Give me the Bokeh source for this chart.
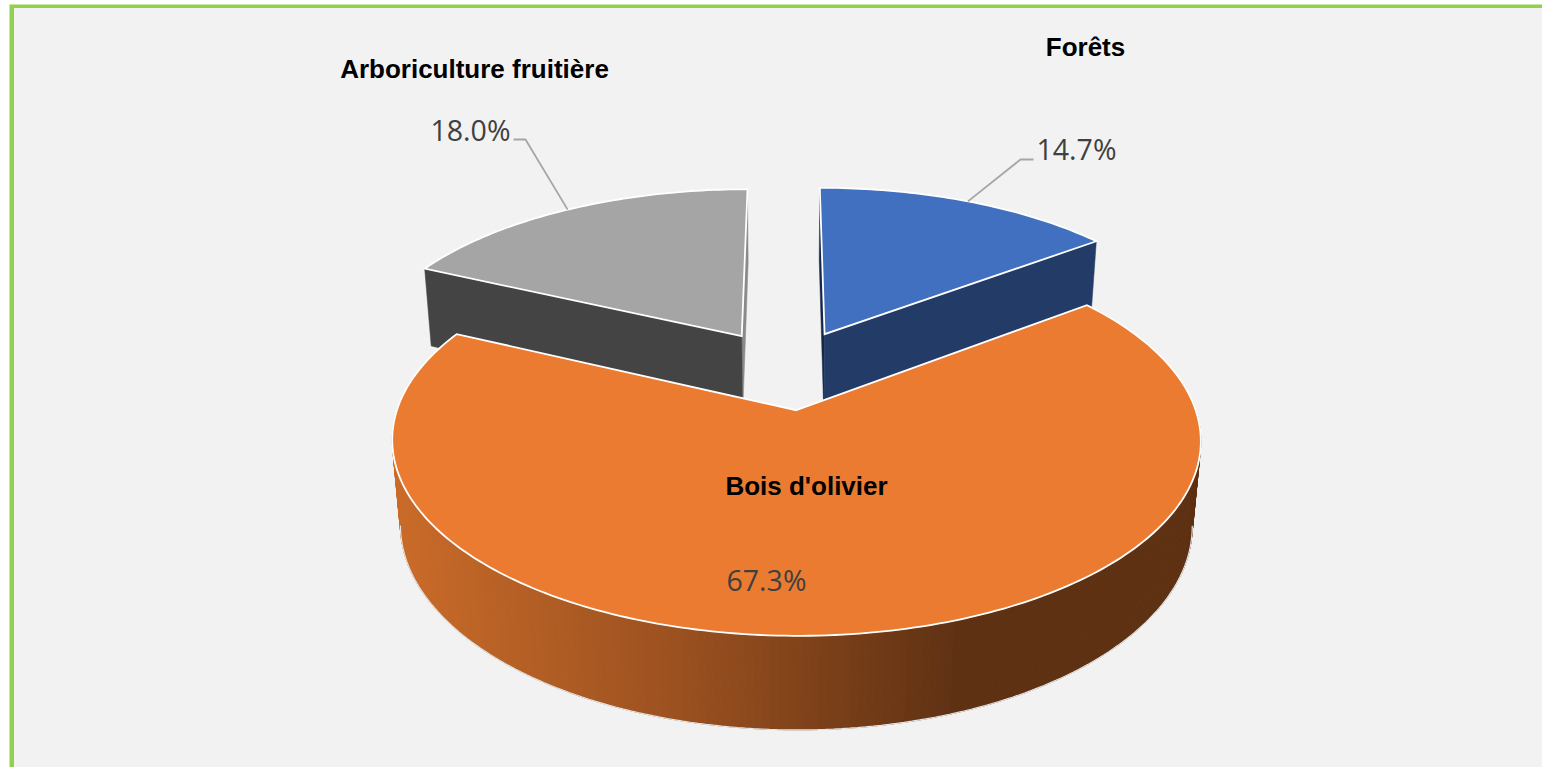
import numpy as np
from bokeh.plotting import figure
from bokeh.models import Range1d
from bokeh.embed import file_html
from bokeh.resources import INLINE
from bokeh.core.properties import value

# ---- data
categories = ["Forêts", "Bois d'olivier", "Arboriculture fruitière"]
shares = [14.7, 67.3, 18.0]

# ---- styles
top_colors = ["#4270C0", "#EB7B30", "#A5A5A5"]
cut_colors = ["#233C67", "#5E3113", "#444444"]
sliver_colors = ["#14274A", "#5E3113", "#8A8A8A"]
shade_x = [395, 680, 960, 1205]
shade_rgb = [(203, 108, 42), (155, 81, 32), (94, 49, 19), (94, 49, 19)]

# ---- 3-D pie camera (pixel units of the page)
CX, CY, A, B, K, C, M, EXPL = 786.5, 368.5, 386.0, 178.0, 0.15, 84.0, 0.02, 0.225


def project(u, v, h=0.0):
    u, v = np.asarray(u, float), np.asarray(v, float)
    w = 1 - K * v + M * h
    return CX + A * u / w, CY + (B * v + C * h) / w


def slice_geom(start, end):
    mid = np.radians((start + end) / 2)
    ou, ov = EXPL * np.sin(mid), -EXPL * np.cos(mid)
    n = max(3, int(abs(end - start)) + 2)
    t = np.radians(np.linspace(start, end, n))
    return ou, ov, ou + np.sin(t), ov - np.cos(t)


def poly(u, v, h=0.0):
    x, y = project(u, v, h)
    return list(x), list(y)


p = figure(width=1542, height=767, x_range=Range1d(0, 1542), y_range=Range1d(767, 0),
           toolbar_location=None, output_backend="svg", min_border=0,
           background_fill_color="#FFFFFF", border_fill_color="#FFFFFF", outline_line_color=None)
p.axis.visible = False
p.grid.visible = False

# frame
p.quad(left=[9], right=[1542], top=[4], bottom=[767], fill_color="#92D050", line_color=None)
p.quad(left=[13.5], right=[1542], top=[7.5], bottom=[767], fill_color="#F2F2F2", line_color=None)

cum = np.cumsum([0] + shares) * 3.6


def cut_face(ou, ov, eu, ev, color):
    x0, y0 = poly([ou, eu], [ov, ev], 0)
    x1, y1 = poly([eu, ou], [ev, ov], 1)
    p.patch(x0 + x1, y0 + y1, fill_color=color, line_color=color, line_width=0.5)


def top_face(ou, ov, us, vs, color):
    x, y = poly(np.r_[ou, us], np.r_[ov, vs], 0)
    p.patch(x, y, fill_color=color, line_color="#FFFFFF", line_width=1.8, line_join="miter")


# back slices: grey (index 2) then blue (index 0)
for i in (2, 0):
    s, e = cum[i], cum[i + 1]
    ou, ov, us, vs = slice_geom(s, e)
    if i == 2:
        cut_face(ou, ov, us[-1], vs[-1], sliver_colors[i])
        cut_face(ou, ov, us[0], vs[0], cut_colors[i])
    else:
        cut_face(ou, ov, us[0], vs[0], sliver_colors[i])
        cut_face(ou, ov, us[-1], vs[-1], cut_colors[i])
    top_face(ou, ov, us, vs, top_colors[i])

# orange wall + top
s, e = cum[1], cum[2]
ou, ov, us, vs = slice_geom(s, e)
tx, ty = project(us, vs, 0)
bx, by = project(us, vs, 1)
wall_x, wall_y, wall_c = [], [], []
for j in range(len(us) - 1):
    xm = (bx[j] + bx[j + 1]) / 2
    rgb = [int(np.interp(xm, shade_x, [c[k] for c in shade_rgb])) for k in range(3)]
    wall_x.append([tx[j], tx[j + 1], bx[j + 1], bx[j]])
    wall_y.append([ty[j], ty[j + 1], by[j + 1], by[j]])
    wall_c.append("#%02X%02X%02X" % tuple(rgb))
p.patches(wall_x, wall_y, fill_color=wall_c, line_color=wall_c, line_width=1)
r, l = int(np.argmax(bx)), int(np.argmin(bx))
p.line(list(bx[r:l + 1]), list(by[r:l + 1]), line_color="#E4E4E4", line_width=1.2)
top_face(ou, ov, us, vs, top_colors[1])


# leader lines end on the arc at mid-angle of each slice
def arc_mid(i):
    s, e = cum[i], cum[i + 1]
    ou, ov, us, vs = slice_geom(s, e)
    mid = np.radians((s + e) / 2)
    return project(ou + np.sin(mid), ov - np.cos(mid))


lx, ly = arc_mid(0)
p.line([float(lx), 1020, 1033], [float(ly), 159, 159], line_color="#A6A6A6", line_width=1.8)
lx, ly = arc_mid(2)
p.line([float(lx), 525, 513], [float(ly), 139, 139], line_color="#A6A6A6", line_width=1.8)

# texts
name_pos = {0: (1085, 46), 1: (806, 485), 2: (474, 68)}
pct_pos = {0: (1076, 148), 1: (766, 579), 2: (470, 129)}
for i, c in enumerate(categories):
    x, y = name_pos[i]
    p.text([x], [y], text=[c], text_font=value("Liberation Sans"), text_font_style="bold",
           text_font_size=value("26px"), text_color="#000000", text_align="center", text_baseline="middle")
    x, y = pct_pos[i]
    p.text([x], [y], text=["%.1f%%" % shares[i]], text_font=value("Open Sans"),
           text_font_size=value("28.5px"), text_color="#404040", text_align="center", text_baseline="middle")

open("out.html", "w").write(file_html(p, INLINE))
